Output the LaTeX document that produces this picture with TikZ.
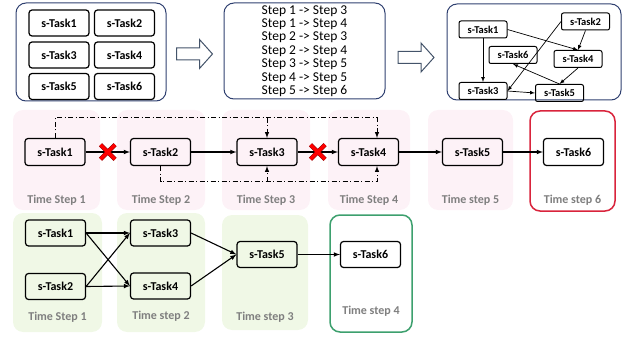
\documentclass[tikz,border=0pt]{standalone}
\usepackage{fontspec}
\setmainfont{Carlito}
\usetikzlibrary{arrows}
\usetikzlibrary{calc}
\usetikzlibrary{shapes.misc}
\definecolor{frameBlue}{HTML}{2F4070}
\definecolor{arrowGray}{HTML}{44546A}
\definecolor{pinkBg}{HTML}{FDF2F7}
\definecolor{greenBg}{HTML}{F0F8E6}
\definecolor{redFrame}{HTML}{D9243C}
\definecolor{greenFrame}{HTML}{3DA06E}
\definecolor{labelGray}{HTML}{7F7F7F}
\newcommand{\drawStepBox}[6]{
	\path[#3] (#1) rectangle (#2);
	\node[stepLabel, yshift=#6] (#4) at ($(#1 |- #2)!0.5!(#2)$) {#5};
}
\newcommand{\drawBlockArrow}[1]{
	\draw[blockArrow] ($(#1)+(-18,-6)$) -- ($(#1)+(5,-6)$) -- ($(#1)+(5,-14.5)$) -- ($(#1)+(18,0)$)
		-- ($(#1)+(5,14.5)$) -- ($(#1)+(5,6)$) -- ($(#1)+(-18,6)$) -- cycle;
}
\begin{document}
\begin{tikzpicture}[x=1pt, y=-1pt, >=latex,
	task/.style={draw, rounded corners=3pt, line width=1.2pt, minimum width=60pt, minimum height=27pt, inner sep=0pt, font=\bfseries\fontsize{12}{14}\selectfont},
	gridTask/.style={task, minimum height=26pt},
	smallTask/.style={task, line width=1pt, minimum width=48pt, minimum height=17pt, rounded corners=2pt, font=\bfseries\fontsize{10.5}{12}\selectfont},
	frameBox/.style={draw=frameBlue, line width=1pt, rounded corners=10pt},
	listText/.style={align=center, inner sep=0pt, font=\fontsize{13.5}{13.4}\selectfont},
	pinkStep/.style={fill=pinkBg, rounded corners=10pt},
	greenStep/.style={fill=greenBg, rounded corners=10pt},
	redStep/.style={draw=redFrame, fill=white, line width=1.5pt, rounded corners=10pt},
	greenFrameStep/.style={draw=greenFrame, fill=white, line width=1.5pt, rounded corners=10pt},
	stepLabel/.style={text=labelGray, font=\bfseries\fontsize{12}{14}\selectfont},
	flow/.style={->, line width=1.1pt},
	thinFlow/.style={->, line width=0.7pt},
	depLine/.style={->, line width=1pt, dash pattern=on 5pt off 2.5pt on 1pt off 2.5pt},
	crossMark/.style={cross out, draw=red, line width=3.5pt, minimum size=11pt, inner sep=0pt, preaction={draw=red!55!black, line width=4.5pt}},
	blockArrow/.style={draw=arrowGray, line width=1pt, fill=white}]
	\useasboundingbox (0,0) rectangle (625,337);

	% top row
	\draw[frameBox] (16,3) rectangle (166,101);
	\node[gridTask] (g1) at (59,23) {s-Task1};
	\node[gridTask] (g2) at (124.5,23) {s-Task2};
	\node[gridTask] (g3) at (59,55) {s-Task3};
	\node[gridTask] (g4) at (124.5,55) {s-Task4};
	\node[gridTask] (g5) at (59,86.5) {s-Task5};
	\node[gridTask] (g6) at (124.5,86.5) {s-Task6};

	\coordinate (A1) at (194.5,54);
	\coordinate (A2) at (416,57.5);
	\drawBlockArrow{A1}
	\drawBlockArrow{A2}

	\node[frameBox, listText, minimum width=161pt, minimum height=96pt] (stepList) at (304.5,51)
		{Step 1 -> Step 3\\Step 1 -> Step 4\\Step 2 -> Step 3\\Step 2 -> Step 4\\Step 3 -> Step 5\\Step 4 -> Step 5\\Step 5 -> Step 6};

	\draw[frameBox] (447,4) rectangle (621,100);
	\node[smallTask] (t1) at (483,29.5) {s-Task1};
	\node[smallTask] (t2) at (585.5,21.5) {s-Task2};
	\node[smallTask] (t6) at (513,55) {s-Task6};
	\node[smallTask] (t4) at (578,59) {s-Task4};
	\node[smallTask] (t3) at (483,91) {s-Task3};
	\node[smallTask] (t5) at (559.5,93) {s-Task5};
	\draw[thinFlow] (t1) -- (t3);
	\draw[thinFlow] (t1.east) -- (t4.north);
	\draw[thinFlow] (t2.south) -- (t4.north);
	\draw[thinFlow] (t2.west) -- (t3.east);
	\draw[thinFlow] (t3.east) -- (t5.west);
	\draw[thinFlow] (t4.south) -- (t5.north);
	\draw[thinFlow] (t5.north) -- (t6.south);

	% middle row
	\coordinate (S1_L) at (13,110);
	\coordinate (S1_R) at (100,210);
	\coordinate (S2_L) at (117,110);
	\coordinate (S2_R) at (205,210);
	\coordinate (S3_L) at (222,110);
	\coordinate (S3_R) at (310,210);
	\coordinate (S4_L) at (328,110);
	\coordinate (S4_R) at (410,210);
	\coordinate (S5_L) at (428,110);
	\coordinate (S5_R) at (513,210);
	\coordinate (S6_L) at (530,111);
	\coordinate (S6_R) at (615,211);

	\drawStepBox{S1_L}{S1_R}{pinkStep}{ts1}{Time Step 1}{10pt}
	\drawStepBox{S2_L}{S2_R}{pinkStep}{ts2}{Time Step 2}{10pt}
	\drawStepBox{S3_L}{S3_R}{pinkStep}{ts3}{Time Step 3}{10pt}
	\drawStepBox{S4_L}{S4_R}{pinkStep}{ts4}{Time Step 4}{10pt}
	\drawStepBox{S5_L}{S5_R}{pinkStep}{ts5}{Time step 5}{10pt}
	\drawStepBox{S6_L}{S6_R}{redStep}{ts6}{Time step 6}{11pt}

	\node[task] (m1) at (55,152) {s-Task1};
	\node[task] (m2) at (160.5,152) {s-Task2};
	\node[task] (m3) at (267,152) {s-Task3};
	\node[task] (m4) at (368.5,152) {s-Task4};
	\node[task] (m5) at (472.5,152) {s-Task5};
	\node[task] (m6) at (573.5,152) {s-Task6};

	\draw[flow] (m1) -- node[crossMark] (x1) {} (m2);
	\draw[flow] (m2) -- (m3);
	\draw[flow] (m3) -- node[crossMark] (x2) {} (m4);
	\draw[flow] (m4) -- (m5);
	\draw[flow] (m5) -- (m6);

	\coordinate (topRail) at (55,118);
	\coordinate (botRail) at (161,182);
	\draw[depLine] (m1.north) |- ([xshift=8.5pt]m4.north |- topRail) -- ([xshift=8.5pt]m4.north);
	\draw[depLine] (m3.north |- topRail) -- (m3.north);
	\draw[depLine] (m2.south) |- ([xshift=8.5pt]m4.south |- botRail) -- ([xshift=8.5pt]m4.south);
	\draw[depLine] (m3.south |- botRail) -- (m3.south);

	% bottom row
	\coordinate (G1_L) at (13,213);
	\coordinate (G1_R) at (102,332);
	\coordinate (G2_L) at (117,213);
	\coordinate (G2_R) at (205,332);
	\coordinate (G3_L) at (222,215);
	\coordinate (G3_R) at (308,330);
	\coordinate (G4_L) at (330,215);
	\coordinate (G4_R) at (412,332);

	\drawStepBox{G1_L}{G1_R}{greenStep}{gs1}{Time Step 1}{15pt}
	\drawStepBox{G2_L}{G2_R}{greenStep}{gs2}{Time step 2}{16pt}
	\drawStepBox{G3_L}{G3_R}{greenStep}{gs3}{Time step 3}{13pt}
	\drawStepBox{G4_L}{G4_R}{greenFrameStep}{gs4}{Time step 4}{21pt}

	\node[task, minimum height=26pt] (b1) at (55.5,233) {s-Task1};
	\node[task, minimum height=26pt] (b2) at (55.5,286.5) {s-Task2};
	\node[task, minimum height=26pt] (b3) at (160.5,233) {s-Task3};
	\node[task, minimum height=26pt] (b4) at (160.5,286) {s-Task4};
	\node[task, minimum height=26pt] (b5) at (267,254.5) {s-Task5};
	\node[task, minimum height=26pt] (b6) at (370.5,254.5) {s-Task6};

	\draw[flow] (b1.east) -- (b3.west);
	\draw[flow] (b1.east) -- (b4.west);
	\draw[flow] (b2.east) -- (b3.west);
	\draw[flow] (b2.east) -- (b4.west);
	\draw[flow] (b3.east) -- (b5.west);
	\draw[flow] (b4.east) -- (b5.west);
	\draw[flow] (b5) -- (b6);

\end{tikzpicture}
\end{document}
